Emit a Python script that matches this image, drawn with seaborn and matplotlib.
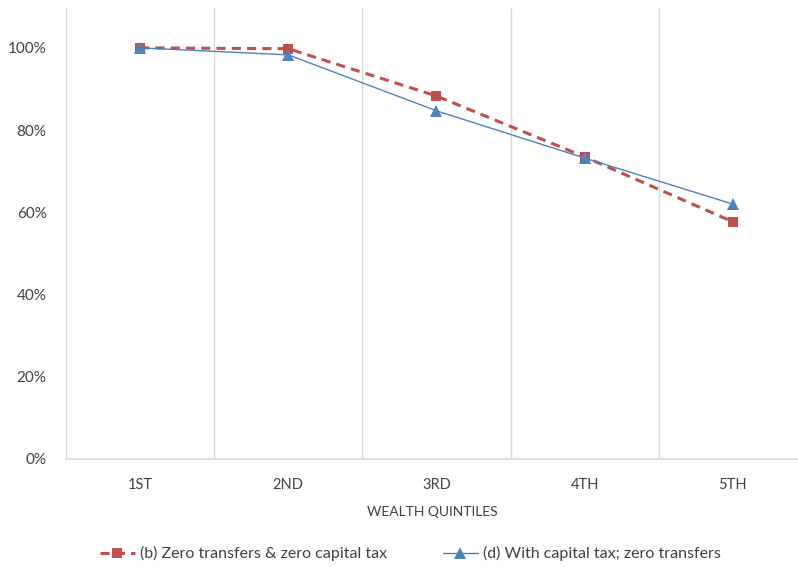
import pandas as pd
import numpy as np
import matplotlib.pyplot as plt
import seaborn as sns

quintiles = ['1ST', '2ND', '3RD', '4TH', '5TH']
zero_transfers = [1.000, 0.998, 0.883, 0.735, 0.577]
capital_tax = [1.000, 0.983, 0.847, 0.732, 0.620]

sns.set_theme(style='white')
plt.rcParams['font.family'] = ['Lato', 'DejaVu Sans']

fig = plt.figure(figsize=(7.98, 5.67), dpi=100)
ax = fig.add_axes([66/798, 1-459/567, 1-66/798, 451/567])

x = np.arange(len(quintiles))
sns.lineplot(x=x, y=zero_transfers, ax=ax, color='#C0504D', linewidth=2.2,
             linestyle=(0, (3, 2)), marker='s', markersize=7, markeredgewidth=0,
             label='(b) Zero transfers & zero capital tax')
sns.lineplot(x=x, y=capital_tax, ax=ax, color='#4F81BD', linewidth=1.0,
             marker='^', markersize=8, markeredgewidth=0,
             label='(d) With capital tax; zero transfers')

ax.set_xlim(-0.5, 4.44)
ax.set_ylim(0, 1.097)
ax.set_xticks(x)
ax.set_xticklabels(quintiles, fontsize=10.5, color='#404040')
ax.set_yticks(np.arange(0, 1.01, 0.2))
ax.set_yticklabels([f'{int(round(v*100))}%' for v in np.arange(0, 1.01, 0.2)],
                   fontsize=11, color='#404040')
ax.set_xticks(np.arange(-0.5, 4.5, 1), minor=True)
ax.grid(True, which='minor', axis='x', color='#D9D9D9', linewidth=1)
ax.grid(False, which='major')
ax.tick_params(axis='both', which='both', length=0)
ax.tick_params(axis='y', pad=14)
ax.tick_params(axis='x', pad=14)
for s in ['top', 'right', 'left']:
    ax.spines[s].set_visible(False)
ax.spines['bottom'].set_color('#D9D9D9')
ax.set_xlabel('WEALTH QUINTILES', fontsize=10, color='#404040', labelpad=10)
ax.set_ylabel('')

ax.legend(loc='center', bbox_to_anchor=(0.47, -0.21), ncol=2, frameon=False,
          fontsize=11.5, handlelength=2.2, handletextpad=0.3, columnspacing=3.5,
          labelcolor='#404040')

fig.savefig('out.png', dpi=100)
